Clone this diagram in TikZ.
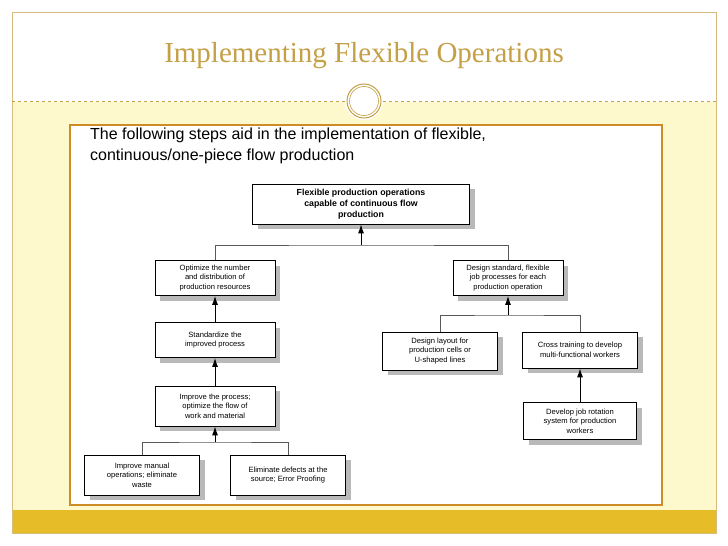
\documentclass[tikz,border=0pt]{standalone}
\usepackage{fontspec}
\setmainfont{Liberation Sans}
\newfontfamily\titlefont{Liberation Serif}
\usetikzlibrary{calc,positioning,shadows,arrows.meta}
\definecolor{gold}{RGB}{196,160,70}
\definecolor{cream}{RGB}{254,249,205}
\definecolor{bar}{RGB}{230,188,40}
\definecolor{frameor}{RGB}{205,140,40}
\tikzset{
  stepbox/.style={draw, fill=white, thick, align=center, inner sep=1pt,
    font=\fontsize{7.6}{9.6}\selectfont,
    drop shadow={shadow xshift=5pt, shadow yshift=-5pt, fill=gray!55, opacity=1}},
  bus/.style={draw=gray!70!black, line width=0.6pt},
  up/.style={-{Latex[length=9pt,width=6pt]}, line width=1pt}
}
\begin{document}
\begin{tikzpicture}[x=1pt,y=-1pt]
        \useasboundingbox (0,0) rectangle (728,546);
        \fill[white] (0,0) rectangle (728,546);
        % slide
        \fill[cream] (12,102) rectangle (716,510);
        \fill[bar] (12,510) rectangle (716,533);
        \draw[gold!70] (12,12) rectangle (716,533);
        \draw[gold, dashed, line width=0.4pt] (12,101) -- (345,101);
        \draw[gold, dashed, line width=0.4pt] (383,101) -- (716,101);
        \fill[white] (364,101) circle (19);
        \draw[gold, line width=1pt] (364,101) circle (17);
        \draw[gold, line width=0.6pt] (364,101) circle (14.5);
        \node[font=\titlefont\fontsize{29}{32}\selectfont, text=gold] (title) at (364,56) {Implementing Flexible Operations};

        % panel
        \draw[frameor, line width=1.5pt, fill=white] (70,125) rectangle (662,505);
        \node[anchor=north west, align=left, font=\fontsize{16}{21}\selectfont, inner sep=0pt] (intro) at (90,128)
          {The following steps aid in the implementation of flexible,\\continuous/one-piece flow production};

        % boxes
        \node[stepbox, minimum width=217pt, minimum height=40pt, font=\bfseries\fontsize{8.8}{11}\selectfont] (goal) at (361,204)
          {Flexible production operations\\capable of continuous flow\\production};
        \node[stepbox, minimum width=120pt, minimum height=35pt] (opt) at (215,278)
          {Optimize the number\\and distribution of\\production resources};
        \node[stepbox, minimum width=110pt, minimum height=35pt] (std) at (508,278)
          {Design standard, flexible\\job processes for each\\production operation};
        \node[stepbox, minimum width=120pt, minimum height=35pt] (stdz) at (215,340)
          {Standardize the\\improved process};
        \node[stepbox, minimum width=120pt, minimum height=40pt] (impr) at (215,406)
          {Improve the process;\\optimize the flow of\\work and material};
        \node[stepbox, minimum width=115pt, minimum height=40pt] (manual) at (142,475)
          {Improve manual\\operations; eliminate\\waste};
        \node[stepbox, minimum width=115pt, minimum height=40pt] (defect) at (288,475)
          {Eliminate defects at the\\source; Error Proofing};
        \node[stepbox, minimum width=115pt, minimum height=38pt] (layout) at (440,351)
          {Design layout for\\production cells or\\U-shaped lines};
        \node[stepbox, minimum width=115pt, minimum height=36pt] (cross) at (580,350)
          {Cross training to develop\\multi-functional workers};
        \node[stepbox, minimum width=113pt, minimum height=37pt] (rot) at (580,421)
          {Develop job rotation\\system for production\\workers};

        % connectors
        \coordinate (busT) at (361,245);
        \draw[bus] (opt.north) |- (busT) -| (std.north);
        \draw[up] (busT) -- (goal.south);
        \draw[up] (stdz.north) -- (opt.south);
        \draw[up] (impr.north) -- (stdz.south);
        \coordinate (busL) at (215,442);
        \draw[bus] (manual.north) |- (busL) -| (defect.north);
        \draw[up] (busL) -- (impr.south);
        \coordinate (busR) at (508,315);
        \draw[bus] (layout.north) |- (busR) -| (cross.north);
        \draw[up] (busR) -- (std.south);
        \draw[up] (rot.north) -- (cross.south);
    \end{tikzpicture}
\end{document}
